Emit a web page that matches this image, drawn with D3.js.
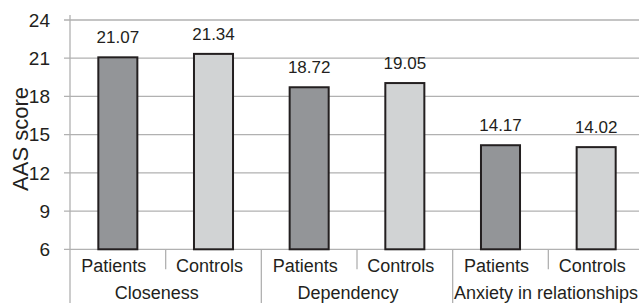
<!DOCTYPE html>
<html>
<head>
<meta charset="utf-8">
<script src="https://cdn.jsdelivr.net/npm/d3@7"></script>
<style>
  body { margin: 0; background: #fff; }
  text { font-family: "Liberation Sans", Arial, sans-serif; fill: #231f20; }
</style>
</head>
<body>
<div id="chart"></div>
<script>
const groups = ['Closeness', 'Dependency', 'Anxiety in relationships'];
const subgroups = ['Patients', 'Controls'];
const patients = [21.07, 18.72, 14.17];
const controls = [21.34, 19.05, 14.02];
const yTicks = [6, 9, 12, 15, 18, 21, 24];

const width = 639, height = 303;
const plotLeft = 70, plotRight = 644, plotTop = 20, plotBottom = 249.3;

const data = [];
groups.forEach((g, i) => {
  data.push({ group: g, sub: 'Patients', value: patients[i] });
  data.push({ group: g, sub: 'Controls', value: controls[i] });
});

const svg = d3.select('#chart').append('svg')
  .attr('width', width)
  .attr('height', height);

const y = d3.scaleLinear().domain([6, 24]).range([plotBottom, plotTop]);
const x0 = d3.scaleBand().domain(groups).range([plotLeft, plotRight]);
const x1 = d3.scaleBand().domain(subgroups).range([0, x0.bandwidth()])
  .paddingInner(0.592).paddingOuter(0.296);
const color = d3.scaleOrdinal().domain(subgroups).range(['#939598', '#d1d3d4']);

// gridlines
svg.append('g').selectAll('line')
  .data(yTicks)
  .join('line')
  .attr('x1', plotLeft - 6)
  .attr('x2', width)
  .attr('y1', d => y(d))
  .attr('y2', d => y(d))
  .attr('stroke', '#b1b1b1')
  .attr('stroke-width', 1.3);

// y axis line
svg.append('line')
  .attr('x1', plotLeft).attr('x2', plotLeft)
  .attr('y1', plotTop - 5).attr('y2', height)
  .attr('stroke', '#b1b1b1')
  .attr('stroke-width', 1.3);

// y tick labels
svg.append('g').selectAll('text')
  .data(yTicks)
  .join('text')
  .attr('x', 50)
  .attr('y', d => y(d))
  .attr('dy', '0.36em')
  .attr('text-anchor', 'end')
  .style('font-size', '19px')
  .text(d => d);

// y label
svg.append('text')
  .attr('transform', `translate(28, 139) rotate(-90)`)
  .attr('text-anchor', 'middle')
  .style('font-size', '22px')
  .text('AAS score');

// bars
const bars = svg.append('g').selectAll('g')
  .data(data)
  .join('g')
  .attr('transform', d => `translate(${x0(d.group) + x1(d.sub)},0)`);

bars.append('rect')
  .attr('x', 0)
  .attr('width', x1.bandwidth())
  .attr('y', d => y(d.value))
  .attr('height', d => y(6) - y(d.value))
  .attr('fill', d => color(d.sub))
  .attr('stroke', '#231f20')
  .attr('stroke-width', 2);

bars.append('text')
  .attr('x', x1.bandwidth() / 2)
  .attr('y', d => y(d.value) - 14)
  .attr('text-anchor', 'middle')
  .style('font-size', '17px')
  .text(d => d.value.toFixed(2));

// category axis separators
svg.append('g').selectAll('line')
  .data(groups)
  .join('line')
  .attr('x1', d => x0(d) + x0.bandwidth())
  .attr('x2', d => x0(d) + x0.bandwidth())
  .attr('y1', plotBottom)
  .attr('y2', height)
  .attr('stroke', '#b1b1b1')
  .attr('stroke-width', 1.3);

svg.append('g').selectAll('line')
  .data(groups)
  .join('line')
  .attr('x1', d => x0(d) + x0.bandwidth() / 2)
  .attr('x2', d => x0(d) + x0.bandwidth() / 2)
  .attr('y1', plotBottom)
  .attr('y2', plotBottom + 20)
  .attr('stroke', '#b1b1b1')
  .attr('stroke-width', 1.3);

// subgroup labels
svg.append('g').selectAll('text')
  .data(data)
  .join('text')
  .attr('x', d => x0(d.group) + x1(d.sub) + x1.bandwidth() / 2 - 4)
  .attr('y', 272)
  .attr('text-anchor', 'middle')
  .style('font-size', '18px')
  .text(d => d.sub);

// group labels
svg.append('g').selectAll('text')
  .data(groups)
  .join('text')
  .attr('y', 299)
  .attr('text-anchor', 'middle')
  .style('font-size', '18px')
  .text(d => d)
  .attr('x', function(d) {
    const w = this.getComputedTextLength();
    let cx = x0(d) + x0.bandwidth() / 2 - 9;
    cx = Math.max(cx, x0(d) + 2 + w / 2);
    cx = Math.min(cx, width - 1 - w / 2);
    return cx;
  });
</script>
</body>
</html>
